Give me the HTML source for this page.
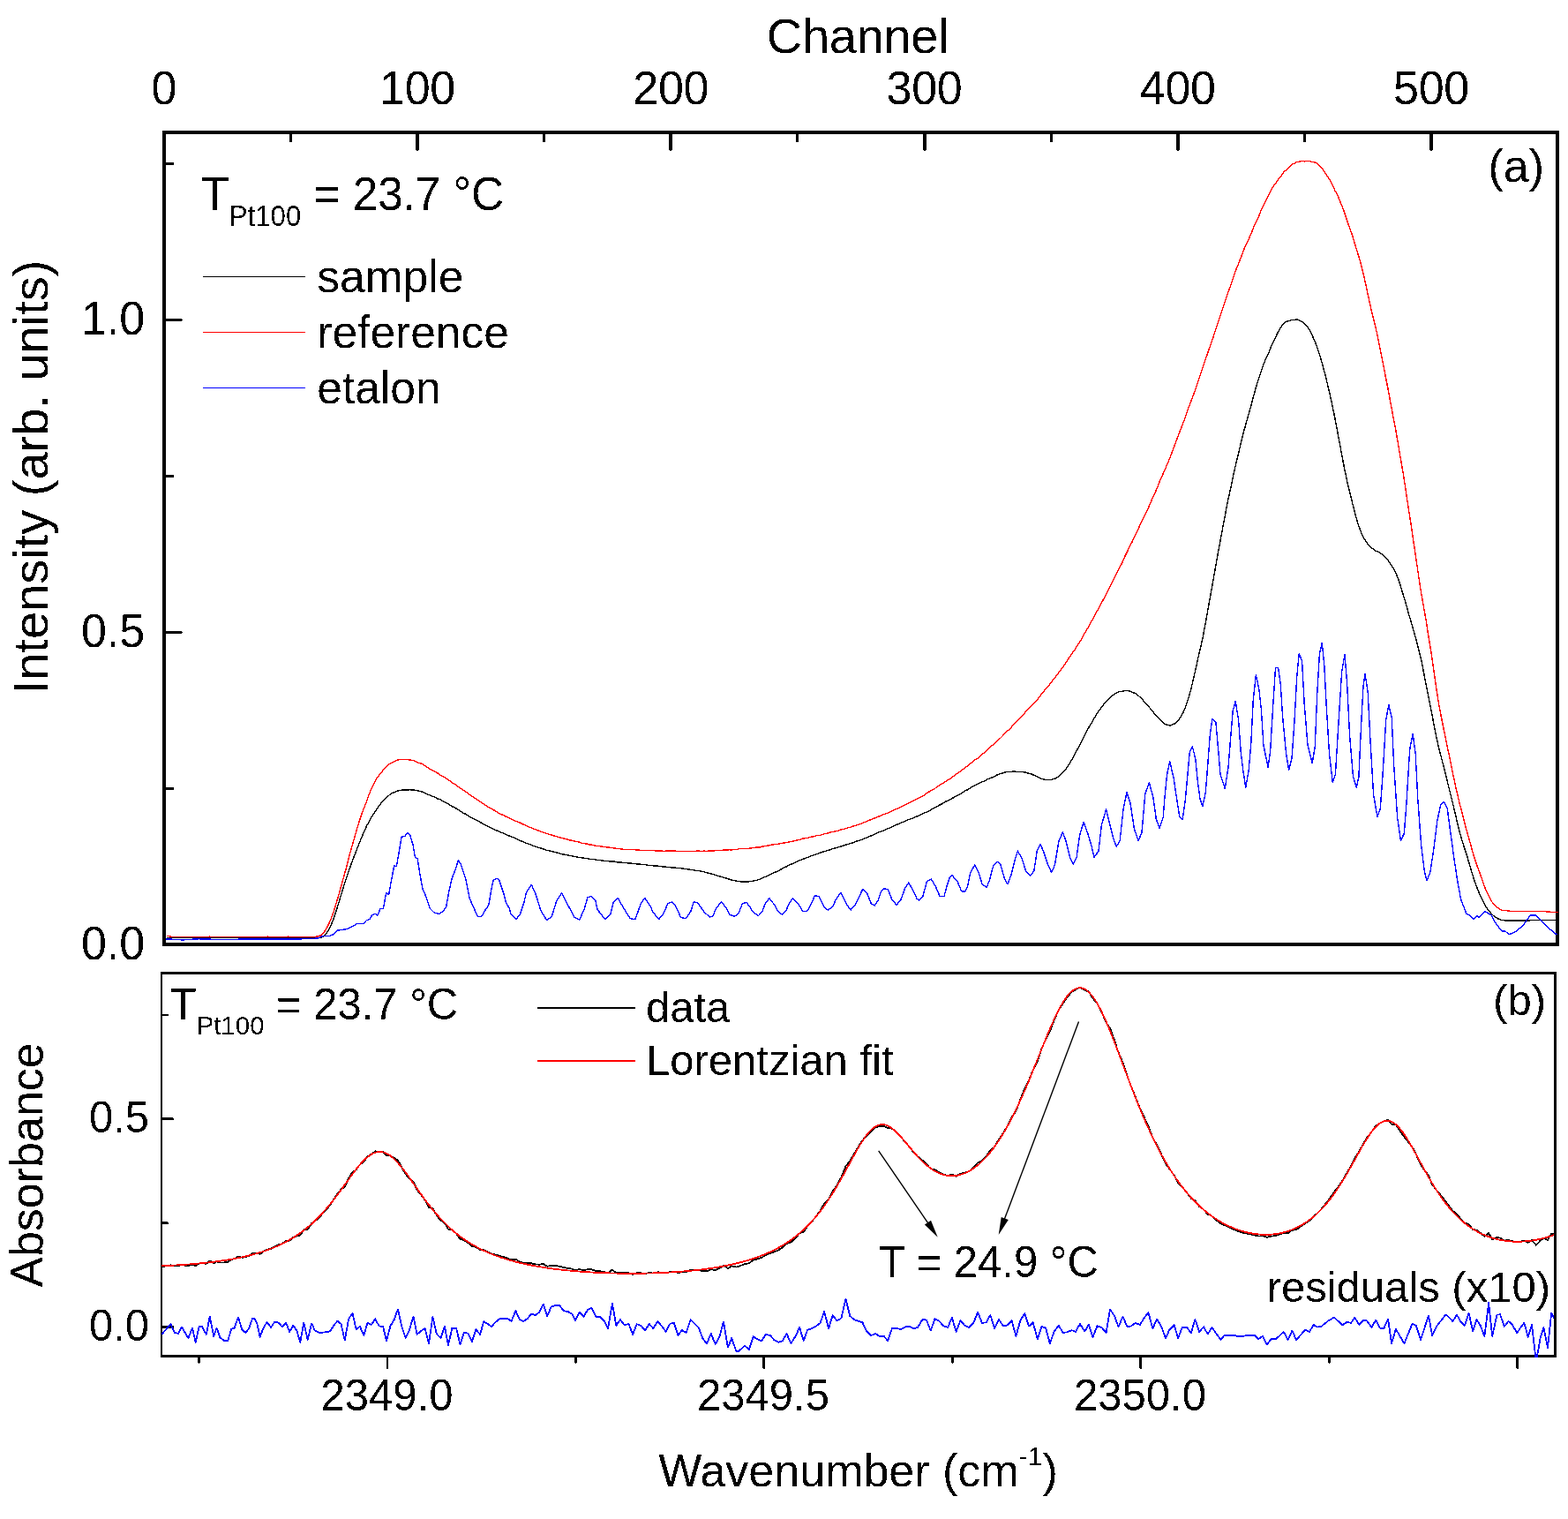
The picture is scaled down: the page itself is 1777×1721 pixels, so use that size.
<!DOCTYPE html>
<html lang="en"><head><meta charset="utf-8"><title>Channel / Wavenumber spectra</title>
<style>
html,body{margin:0;padding:0;background:#fff;}
body{width:1777px;height:1721px;overflow:hidden;}
svg{display:block;}
text{font-family:"Liberation Sans", Arial, Helvetica, sans-serif;fill:#000;}
.ln{fill:none;stroke-linejoin:round;stroke-linecap:butt;}
</style></head><body>
<svg width="1777" height="1721" viewBox="0 0 1777 1721">
<rect x="0" y="0" width="1777" height="1721" fill="#ffffff"/>
<defs><filter id="alias" x="0" y="0" width="1777" height="1721" filterUnits="userSpaceOnUse" color-interpolation-filters="sRGB"><feComponentTransfer><feFuncA type="discrete" tableValues="0 1"/></feComponentTransfer></filter></defs>
<g fill="#000" shape-rendering="crispEdges">
<rect x="184" y="148" width="1583" height="4"/>
<rect x="184" y="1068" width="1583" height="4"/>
<rect x="184" y="148" width="4" height="924"/>
<rect x="1763" y="148" width="4" height="924"/>
<rect x="328" y="152" width="3" height="9"/>
<rect x="471" y="152" width="4" height="18"/>
<rect x="472" y="170" width="2" height="1"/>
<rect x="615" y="152" width="3" height="9"/>
<rect x="758" y="152" width="4" height="18"/>
<rect x="759" y="170" width="2" height="1"/>
<rect x="902" y="152" width="3" height="9"/>
<rect x="1046" y="152" width="4" height="18"/>
<rect x="1047" y="170" width="2" height="1"/>
<rect x="1190" y="152" width="3" height="9"/>
<rect x="1333" y="152" width="4" height="18"/>
<rect x="1334" y="170" width="2" height="1"/>
<rect x="1477" y="152" width="3" height="9"/>
<rect x="1620" y="152" width="4" height="18"/>
<rect x="1621" y="170" width="2" height="1"/>
<rect x="188" y="892" width="9" height="3"/>
<rect x="188" y="715" width="18" height="3"/>
<rect x="206" y="716" width="1" height="1"/>
<rect x="188" y="538" width="9" height="3"/>
<rect x="188" y="361" width="18" height="3"/>
<rect x="206" y="362" width="1" height="1"/>
<rect x="188" y="184" width="9" height="3"/>
<rect x="182" y="1101" width="1582" height="3"/>
<rect x="182" y="1535" width="1582" height="3"/>
<rect x="182" y="1101" width="2" height="437"/>
<rect x="1761" y="1101" width="3" height="437"/>
<rect x="224" y="1538" width="3" height="6"/>
<rect x="225" y="1544" width="1" height="1"/>
<rect x="438" y="1538" width="2" height="12"/>
<rect x="438" y="1550" width="2" height="1"/>
<rect x="651" y="1538" width="3" height="6"/>
<rect x="652" y="1544" width="1" height="1"/>
<rect x="864" y="1538" width="3" height="12"/>
<rect x="865" y="1550" width="2" height="1"/>
<rect x="1078" y="1538" width="3" height="6"/>
<rect x="1079" y="1544" width="1" height="1"/>
<rect x="1291" y="1538" width="3" height="12"/>
<rect x="1292" y="1550" width="2" height="1"/>
<rect x="1505" y="1538" width="3" height="6"/>
<rect x="1506" y="1544" width="1" height="1"/>
<rect x="1718" y="1538" width="3" height="12"/>
<rect x="1719" y="1550" width="2" height="1"/>
<rect x="184" y="1502" width="13" height="3"/>
<rect x="184" y="1266" width="12" height="3"/>
<rect x="196" y="1267" width="1" height="2"/>
<rect x="184" y="1384" width="6" height="3"/>
<rect x="190" y="1385" width="1" height="2"/>
<rect x="184" y="1149" width="7" height="2"/>
</g>
<g filter="url(#alias)">
<text x="972.1" y="60.2" font-size="56" text-anchor="middle" letter-spacing="-0.3">Channel</text>
<text transform="translate(185.8 117.6) scale(1 1.04)" font-size="52" text-anchor="middle" letter-spacing="-0.3">0</text>
<text transform="translate(473.0 117.6) scale(1 1.04)" font-size="52" text-anchor="middle" letter-spacing="-0.3">100</text>
<text transform="translate(760.2 117.6) scale(1 1.04)" font-size="52" text-anchor="middle" letter-spacing="-0.3">200</text>
<text transform="translate(1047.5 117.6) scale(1 1.04)" font-size="52" text-anchor="middle" letter-spacing="-0.3">300</text>
<text transform="translate(1334.8 117.6) scale(1 1.04)" font-size="52" text-anchor="middle" letter-spacing="-0.3">400</text>
<text transform="translate(1622.0 117.6) scale(1 1.04)" font-size="52" text-anchor="middle" letter-spacing="-0.3">500</text>
<text transform="translate(164.2 1087.0) scale(1 1.04)" font-size="52" text-anchor="end">0.0</text>
<text transform="translate(164.2 733.0) scale(1 1.04)" font-size="52" text-anchor="end">0.5</text>
<text transform="translate(164.2 379.0) scale(1 1.04)" font-size="52" text-anchor="end">1.0</text>
<text transform="translate(54 540.5) rotate(-90)" font-size="56" text-anchor="middle">Intensity (arb. units)</text>
<text transform="translate(228 238) scale(1 1.04)" font-size="52">T<tspan x="31.8" y="17.12" font-size="31.2">Pt100 </tspan><tspan x="127.6" y="0" font-size="51.2">= 23.7 °C</tspan></text>
<text x="359.3" y="331" font-size="51.5">sample</text>
<text x="359.3" y="394" font-size="51.5">reference</text>
<text x="359.3" y="457" font-size="51.5">etalon</text>
<text x="1750" y="206.2" font-size="52" text-anchor="end" textLength="63.5">(a)</text>
<text transform="translate(169 1518.7) scale(1 1.017)" font-size="49" text-anchor="end">0.0</text>
<text transform="translate(169 1282.7) scale(1 1.017)" font-size="49" text-anchor="end">0.5</text>
<text transform="translate(438.5 1597.9) scale(1 1.017)" font-size="49" text-anchor="middle">2349.0</text>
<text transform="translate(865.0 1597.9) scale(1 1.017)" font-size="49" text-anchor="middle">2349.5</text>
<text transform="translate(1292.0 1597.9) scale(1 1.017)" font-size="49" text-anchor="middle">2350.0</text>
<text transform="translate(48.4 1320) rotate(-90)" font-size="52" text-anchor="middle">Absorbance</text>
<text x="972.5" y="1683.8" font-size="52" text-anchor="middle">Wavenumber (cm<tspan font-size="30" dy="-24">-1</tspan><tspan dy="24">)</tspan></text>
<text transform="translate(192.8 1155) scale(1 1.017)" font-size="49">T<tspan x="29.7" y="16.72" font-size="29.5">Pt100 </tspan><tspan x="120.2" y="0" font-size="49">= 23.7 °C</tspan></text>
<text x="732" y="1157.5" font-size="49">data</text>
<text x="732" y="1217.8" font-size="49">Lorentzian fit</text>
<text transform="translate(996 1447) scale(1 1.017)" font-size="49">T = 24.9 °C</text>
<text x="1757" y="1475" font-size="49" text-anchor="end">residuals (x10)</text>
<text x="1752" y="1150.4" font-size="49" text-anchor="end">(b)</text>
</g>
<defs>
<clipPath id="ca"><rect x="188" y="152" width="1578" height="916"/></clipPath>
<clipPath id="cb"><rect x="183" y="1104" width="1578" height="434"/></clipPath>
</defs>
<g clip-path="url(#ca)" shape-rendering="crispEdges">
<polyline class="ln" stroke="#000000" stroke-width="1.4" points="188.6,1062.7 191.5,1062.6 194.4,1062.7 197.2,1062.6 200.1,1062.7 203.0,1062.7 205.9,1062.6 208.7,1062.6 211.6,1062.7 214.5,1062.6 217.3,1062.6 220.2,1062.6 223.1,1062.6 226.0,1062.7 228.8,1062.6 231.7,1062.6 234.6,1062.7 237.5,1062.7 240.3,1062.6 243.2,1062.7 246.1,1062.6 248.9,1062.6 251.8,1062.6 254.7,1062.6 257.6,1062.7 260.4,1062.7 263.3,1062.7 266.2,1062.6 269.1,1062.7 271.9,1062.7 274.8,1062.7 277.7,1062.6 280.5,1062.7 283.4,1062.7 286.3,1062.7 289.2,1062.7 292.0,1062.7 294.9,1062.7 297.8,1062.7 300.6,1062.7 303.5,1062.6 306.4,1062.6 309.3,1062.7 312.1,1062.7 315.0,1062.7 317.9,1062.7 320.8,1062.7 323.6,1062.7 326.5,1062.6 329.4,1062.7 332.2,1062.7 335.1,1062.7 338.0,1062.6 340.9,1062.6 343.7,1062.6 346.6,1062.7 349.5,1062.7 352.4,1062.7 355.2,1062.7 358.1,1062.7 361.0,1062.6 363.8,1062.2 366.7,1060.7 369.6,1057.7 372.5,1053.5 375.3,1047.8 378.2,1040.5 381.1,1031.8 384.0,1022.3 386.8,1013.1 389.7,1003.5 392.6,994.9 395.4,986.5 398.3,978.3 401.2,970.6 404.1,963.1 406.9,956.1 409.8,948.9 412.7,942.0 415.6,935.7 418.4,930.5 421.3,925.4 424.2,920.9 427.0,916.5 429.9,912.6 432.8,909.0 435.7,905.6 438.5,903.0 441.4,900.7 444.3,898.7 447.1,897.5 450.0,896.2 452.9,895.6 455.8,895.1 458.6,894.8 461.5,894.9 464.4,894.8 467.3,894.9 470.1,895.3 473.0,895.7 475.9,896.4 478.7,897.3 481.6,898.3 484.5,899.9 487.4,901.1 490.2,902.4 493.1,903.2 496.0,905.0 498.9,905.7 501.7,907.5 504.6,909.0 507.5,910.6 510.3,912.5 513.2,914.1 516.1,915.4 519.0,917.3 521.8,919.2 524.7,921.1 527.6,922.2 530.5,924.0 533.3,925.9 536.2,927.4 539.1,928.9 541.9,930.4 544.8,931.9 547.7,933.6 550.6,935.1 553.4,936.3 556.3,937.8 559.2,939.4 562.0,940.6 564.9,941.8 567.8,943.0 570.7,944.1 573.5,945.5 576.4,946.7 579.3,948.0 582.2,949.0 585.0,950.3 587.9,951.6 590.8,952.9 593.6,954.1 596.5,955.3 599.4,956.2 602.3,957.2 605.1,958.6 608.0,959.5 610.9,960.5 613.8,961.3 616.6,962.1 619.5,963.3 622.4,963.9 625.2,964.5 628.1,965.4 631.0,966.1 633.9,966.8 636.7,967.7 639.6,968.1 642.5,968.6 645.4,969.4 648.2,969.9 651.1,970.5 654.0,971.0 656.8,971.5 659.7,971.9 662.6,972.4 665.5,972.7 668.3,973.3 671.2,973.5 674.1,973.8 676.9,974.3 679.8,974.5 682.7,975.1 685.6,975.3 688.4,975.6 691.3,975.9 694.2,976.1 697.1,976.2 699.9,976.9 702.8,976.9 705.7,977.4 708.5,977.5 711.4,977.8 714.3,978.1 717.2,978.3 720.0,978.7 722.9,979.1 725.8,979.2 728.7,979.4 731.5,979.8 734.4,980.2 737.3,980.6 740.1,980.8 743.0,981.0 745.9,981.2 748.8,981.7 751.6,981.9 754.5,982.1 757.4,982.5 760.2,982.8 763.1,983.1 766.0,983.2 768.9,983.5 771.7,983.7 774.6,984.2 777.5,984.6 780.4,985.0 783.2,985.3 786.1,985.7 789.0,986.4 791.8,986.6 794.7,987.1 797.6,987.8 800.5,988.6 803.3,989.2 806.2,990.0 809.1,990.8 812.0,991.9 814.8,992.6 817.7,993.4 820.6,994.4 823.4,995.2 826.3,996.1 829.2,997.1 832.1,997.6 834.9,998.3 837.8,998.7 840.7,998.9 843.6,999.0 846.4,999.0 849.3,998.8 852.2,998.3 855.0,997.8 857.9,997.2 860.8,996.2 863.7,995.1 866.5,993.7 869.4,992.7 872.3,991.1 875.1,989.8 878.0,988.5 880.9,987.1 883.8,985.7 886.6,984.1 889.5,982.7 892.4,981.3 895.3,979.7 898.1,978.5 901.0,977.1 903.9,975.9 906.7,974.6 909.6,973.5 912.5,972.4 915.4,971.3 918.2,970.2 921.1,969.2 924.0,968.1 926.9,967.3 929.7,966.1 932.6,965.2 935.5,964.4 938.3,963.4 941.2,962.6 944.1,961.5 947.0,960.7 949.8,959.9 952.7,959.1 955.6,958.2 958.5,957.2 961.3,956.4 964.2,955.5 967.1,954.6 969.9,953.4 972.8,952.5 975.7,951.7 978.6,950.3 981.4,949.4 984.3,948.0 987.2,947.0 990.1,945.5 992.9,944.4 995.8,942.9 998.7,941.9 1001.5,940.9 1004.4,939.3 1007.3,938.5 1010.2,937.0 1013.0,935.9 1015.9,934.3 1018.8,933.6 1021.6,932.0 1024.5,930.9 1027.4,929.5 1030.3,928.4 1033.1,927.5 1036.0,926.1 1038.9,925.1 1041.8,923.8 1044.6,922.6 1047.5,921.1 1050.4,919.9 1053.2,918.7 1056.1,916.9 1059.0,915.3 1061.9,913.6 1064.7,912.2 1067.6,910.7 1070.5,908.8 1073.4,907.3 1076.2,906.3 1079.1,904.5 1082.0,902.9 1084.8,901.4 1087.7,899.8 1090.6,898.1 1093.5,896.2 1096.3,894.9 1099.2,893.0 1102.1,891.2 1105.0,889.8 1107.8,888.4 1110.7,886.9 1113.6,885.7 1116.4,884.6 1119.3,882.8 1122.2,881.8 1125.1,880.6 1127.9,879.1 1130.8,877.6 1133.7,876.5 1136.5,875.8 1139.4,874.9 1142.3,874.4 1145.2,874.6 1148.0,874.0 1150.9,874.2 1153.8,874.3 1156.7,874.5 1159.5,874.7 1162.4,875.2 1165.3,876.1 1168.1,876.6 1171.0,878.0 1173.9,879.3 1176.8,880.8 1179.6,882.1 1182.5,882.8 1185.4,883.7 1188.3,883.5 1191.1,883.5 1194.0,882.6 1196.9,881.7 1199.7,879.9 1202.6,877.1 1205.5,873.9 1208.4,870.6 1211.2,866.5 1214.1,861.7 1217.0,856.6 1219.8,851.2 1222.7,846.0 1225.6,840.4 1228.5,834.7 1231.3,829.3 1234.2,823.6 1237.1,819.0 1240.0,813.7 1242.8,809.2 1245.7,805.0 1248.6,801.1 1251.4,797.1 1254.3,793.7 1257.2,791.3 1260.1,788.2 1262.9,786.6 1265.8,784.7 1268.7,783.4 1271.6,783.3 1274.4,782.6 1277.3,782.5 1280.2,783.1 1283.0,784.2 1285.9,785.3 1288.8,787.1 1291.7,789.6 1294.5,792.2 1297.4,795.7 1300.3,799.1 1303.2,802.2 1306.0,805.6 1308.9,809.2 1311.8,811.8 1314.6,815.6 1317.5,818.4 1320.4,820.3 1323.3,821.6 1326.1,822.0 1329.0,820.8 1331.9,819.6 1334.8,817.2 1337.6,813.0 1340.5,808.1 1343.4,801.4 1346.2,793.1 1349.1,783.4 1352.0,771.4 1354.9,758.6 1357.7,745.9 1360.6,733.8 1363.5,720.3 1366.3,705.4 1369.2,689.2 1372.1,672.9 1375.0,656.9 1377.8,641.1 1380.7,624.6 1383.6,609.4 1386.5,593.7 1389.3,578.9 1392.2,564.4 1395.1,551.6 1397.9,537.6 1400.8,525.2 1403.7,513.1 1406.6,500.7 1409.4,489.5 1412.3,479.2 1415.2,468.9 1418.1,458.5 1420.9,447.8 1423.8,437.5 1426.7,428.5 1429.5,420.1 1432.4,411.7 1435.3,404.7 1438.2,398.8 1441.0,391.5 1443.9,386.1 1446.8,379.4 1449.7,373.8 1452.5,369.3 1455.4,365.8 1458.3,364.2 1461.1,363.5 1464.0,362.6 1466.9,362.3 1469.8,362.0 1472.6,363.0 1475.5,364.5 1478.4,366.8 1481.2,370.0 1484.1,373.5 1487.0,379.9 1489.9,385.9 1492.7,393.7 1495.6,402.1 1498.5,412.1 1501.4,422.8 1504.2,434.2 1507.1,446.7 1510.0,459.6 1512.8,473.3 1515.7,488.8 1518.6,504.0 1521.5,519.8 1524.3,534.1 1527.2,547.7 1530.1,559.4 1533.0,571.4 1535.8,582.3 1538.7,592.7 1541.6,600.7 1544.4,607.8 1547.3,612.2 1550.2,616.8 1553.1,619.6 1555.9,621.7 1558.8,624.3 1561.7,625.0 1564.5,626.8 1567.4,628.9 1570.3,631.8 1573.2,635.1 1576.0,639.1 1578.9,643.5 1581.8,649.0 1584.7,656.0 1587.5,664.7 1590.4,674.4 1593.3,683.9 1596.1,694.4 1599.0,703.9 1601.9,714.3 1604.8,724.2 1607.6,735.3 1610.5,746.8 1613.4,761.4 1616.3,776.3 1619.1,790.1 1622.0,804.6 1624.9,820.2 1627.7,834.6 1630.6,847.2 1633.5,858.5 1636.4,869.9 1639.2,881.1 1642.1,892.8 1645.0,904.5 1647.9,916.1 1650.7,928.5 1653.6,940.6 1656.5,950.8 1659.3,959.7 1662.2,968.4 1665.1,978.5 1668.0,988.3 1670.8,997.4 1673.7,1005.1 1676.6,1012.5 1679.5,1018.8 1682.3,1024.4 1685.2,1029.0 1688.1,1032.8 1690.9,1036.1 1693.8,1038.5 1696.7,1040.4 1699.6,1041.8 1702.4,1042.5 1705.3,1042.8 1708.2,1043.0 1711.0,1043.0 1713.9,1043.0 1716.8,1043.1 1719.7,1043.1 1722.5,1043.1 1725.4,1043.1 1728.3,1042.9 1731.2,1042.8 1734.0,1042.8 1736.9,1042.7 1739.8,1042.6 1742.6,1042.6 1745.5,1042.5 1748.4,1042.5 1751.3,1042.6 1754.1,1042.6 1757.0,1042.6 1759.9,1042.7 1762.8,1042.7 1765.6,1042.6"/>
<polyline class="ln" stroke="#ff0000" stroke-width="1.4" points="188.6,1060.3 190.5,1060.3 194.4,1061.3 197.2,1061.2 200.1,1061.3 203.0,1061.3 205.9,1061.3 208.7,1061.3 211.6,1061.3 214.5,1061.3 217.3,1061.2 220.2,1061.3 223.1,1061.3 226.0,1061.4 228.8,1061.3 231.7,1061.3 234.6,1061.3 237.5,1061.2 240.3,1061.3 243.2,1061.3 246.1,1061.3 248.9,1061.3 251.8,1061.4 254.7,1061.3 257.6,1061.3 260.4,1061.3 263.3,1061.3 266.2,1061.3 269.1,1061.3 271.9,1061.3 274.8,1061.3 277.7,1061.4 280.5,1061.3 283.4,1061.3 286.3,1061.3 289.2,1061.2 292.0,1061.3 294.9,1061.3 297.8,1061.4 300.6,1061.3 303.5,1061.2 306.4,1061.3 309.3,1061.3 312.1,1061.2 315.0,1061.3 317.9,1061.3 320.8,1061.3 323.6,1061.3 326.5,1061.2 329.4,1061.3 332.2,1061.4 335.1,1061.3 338.0,1061.4 340.9,1061.4 343.7,1061.4 346.6,1061.3 349.5,1061.3 352.4,1061.2 355.2,1061.3 358.1,1061.2 361.0,1060.9 363.8,1059.7 366.7,1056.9 369.6,1052.7 372.5,1047.1 375.3,1040.6 378.2,1032.7 381.1,1023.3 384.0,1013.4 386.8,1003.5 389.7,993.0 392.6,982.6 395.4,971.4 398.3,961.1 401.2,950.8 404.1,940.8 406.9,931.3 409.8,922.7 412.7,915.0 415.6,908.0 418.4,899.6 421.3,892.7 424.2,886.9 427.0,881.8 429.9,878.0 432.8,874.5 435.7,870.8 438.5,867.8 441.4,865.4 444.3,864.2 447.1,862.8 450.0,861.4 452.9,860.5 455.8,860.6 458.6,860.4 461.5,860.6 464.4,861.1 467.3,861.3 470.1,862.2 473.0,863.8 475.9,864.7 478.7,865.6 481.6,867.5 484.5,869.4 487.4,871.4 490.2,872.9 493.1,874.4 496.0,876.0 498.9,878.0 501.7,879.6 504.6,881.3 507.5,883.2 510.3,885.0 513.2,887.2 516.1,888.8 519.0,891.1 521.8,893.1 524.7,895.0 527.6,896.8 530.5,899.2 533.3,900.8 536.2,903.0 539.1,904.8 541.9,906.6 544.8,908.8 547.7,910.7 550.6,912.5 553.4,914.3 556.3,915.9 559.2,917.5 562.0,919.2 564.9,921.2 567.8,922.5 570.7,923.7 573.5,925.3 576.4,926.5 579.3,927.9 582.2,929.4 585.0,930.5 587.9,931.5 590.8,932.9 593.6,934.3 596.5,935.6 599.4,937.0 602.3,937.8 605.1,939.2 608.0,940.3 610.9,941.3 613.8,942.5 616.6,943.5 619.5,944.3 622.4,945.5 625.2,946.0 628.1,947.1 631.0,947.9 633.9,948.8 636.7,949.3 639.6,950.2 642.5,950.9 645.4,951.8 648.2,952.3 651.1,953.1 654.0,953.7 656.8,954.2 659.7,955.5 662.6,955.7 665.5,956.1 668.3,957.1 671.2,957.2 674.1,958.0 676.9,958.6 679.8,958.8 682.7,959.2 685.6,959.6 688.4,960.1 691.3,960.2 694.2,960.6 697.1,961.1 699.9,961.5 702.8,961.7 705.7,962.2 708.5,962.3 711.4,962.3 714.3,962.6 717.2,962.4 720.0,962.8 722.9,962.9 725.8,963.3 728.7,963.5 731.5,963.4 734.4,963.5 737.3,963.4 740.1,963.7 743.0,963.9 745.9,964.0 748.8,963.8 751.6,964.3 754.5,964.2 757.4,964.1 760.2,964.0 763.1,964.1 766.0,964.2 768.9,964.2 771.7,964.3 774.6,964.4 777.5,964.5 780.4,964.4 783.2,964.2 786.1,964.3 789.0,964.2 791.8,964.1 794.7,964.5 797.6,964.1 800.5,964.4 803.3,963.9 806.2,963.9 809.1,963.9 812.0,963.6 814.8,963.6 817.7,963.3 820.6,963.1 823.4,963.0 826.3,962.8 829.2,962.9 832.1,962.5 834.9,962.6 837.8,961.6 840.7,961.8 843.6,961.7 846.4,961.2 849.3,961.2 852.2,960.8 855.0,960.3 857.9,960.0 860.8,960.0 863.7,959.1 866.5,958.7 869.4,958.1 872.3,957.8 875.1,957.0 878.0,956.7 880.9,956.6 883.8,955.9 886.6,955.3 889.5,954.8 892.4,954.4 895.3,953.6 898.1,953.3 901.0,952.5 903.9,951.8 906.7,951.4 909.6,950.1 912.5,949.8 915.4,949.3 918.2,948.4 921.1,947.9 924.0,947.1 926.9,946.4 929.7,946.3 932.6,945.3 935.5,944.5 938.3,944.0 941.2,943.0 944.1,942.5 947.0,941.7 949.8,941.2 952.7,940.0 955.6,939.6 958.5,938.7 961.3,937.6 964.2,937.2 967.1,935.9 969.9,935.4 972.8,934.2 975.7,933.2 978.6,932.0 981.4,931.0 984.3,929.4 987.2,928.6 990.1,927.3 992.9,926.3 995.8,925.1 998.7,924.0 1001.5,922.5 1004.4,921.8 1007.3,920.7 1010.2,919.0 1013.0,917.7 1015.9,916.5 1018.8,915.4 1021.6,914.2 1024.5,912.3 1027.4,911.0 1030.3,909.6 1033.1,908.1 1036.0,906.6 1038.9,905.5 1041.8,903.6 1044.6,902.5 1047.5,900.8 1050.4,898.7 1053.2,896.9 1056.1,895.2 1059.0,893.8 1061.9,891.5 1064.7,889.6 1067.6,888.0 1070.5,886.2 1073.4,884.1 1076.2,882.7 1079.1,880.5 1082.0,878.6 1084.8,876.3 1087.7,874.4 1090.6,872.3 1093.5,869.7 1096.3,868.0 1099.2,865.4 1102.1,863.5 1105.0,860.9 1107.8,859.3 1110.7,856.6 1113.6,854.3 1116.4,851.9 1119.3,848.9 1122.2,846.2 1125.1,844.0 1127.9,841.7 1130.8,838.8 1133.7,836.3 1136.5,833.5 1139.4,830.1 1142.3,827.7 1145.2,825.2 1148.0,821.6 1150.9,818.3 1153.8,815.8 1156.7,812.7 1159.5,809.9 1162.4,806.5 1165.3,803.7 1168.1,800.0 1171.0,797.6 1173.9,794.6 1176.8,791.2 1179.6,787.2 1182.5,784.2 1185.4,779.9 1188.3,777.2 1191.1,773.5 1194.0,769.5 1196.9,766.1 1199.7,762.3 1202.6,758.6 1205.5,754.4 1208.4,750.4 1211.2,745.7 1214.1,741.7 1217.0,737.6 1219.8,733.3 1222.7,728.6 1225.6,724.3 1228.5,718.8 1231.3,714.0 1234.2,709.1 1237.1,703.8 1240.0,698.8 1242.8,693.2 1245.7,688.5 1248.6,682.6 1251.4,677.5 1254.3,671.7 1257.2,666.6 1260.1,660.1 1262.9,655.0 1265.8,649.0 1268.7,643.4 1271.6,637.9 1274.4,631.3 1277.3,625.4 1280.2,619.5 1283.0,614.0 1285.9,607.4 1288.8,602.0 1291.7,595.5 1294.5,589.5 1297.4,583.7 1300.3,577.8 1303.2,571.2 1306.0,564.8 1308.9,558.5 1311.8,551.9 1314.6,544.4 1317.5,538.3 1320.4,531.6 1323.3,524.9 1326.1,518.0 1329.0,510.3 1331.9,502.7 1334.8,494.8 1337.6,487.6 1340.5,480.2 1343.4,472.6 1346.2,464.0 1349.1,456.4 1352.0,448.6 1354.9,440.9 1357.7,432.2 1360.6,423.6 1363.5,415.2 1366.3,406.9 1369.2,398.3 1372.1,390.4 1375.0,381.9 1377.8,373.1 1380.7,364.7 1383.6,355.4 1386.5,347.1 1389.3,338.4 1392.2,330.2 1395.1,322.5 1397.9,314.0 1400.8,305.5 1403.7,298.6 1406.6,291.0 1409.4,283.5 1412.3,276.8 1415.2,270.7 1418.1,264.4 1420.9,256.9 1423.8,251.0 1426.7,244.7 1429.5,237.5 1432.4,231.8 1435.3,225.7 1438.2,220.1 1441.0,214.1 1443.9,209.8 1446.8,206.0 1449.7,202.0 1452.5,198.6 1455.4,194.3 1458.3,192.4 1461.1,189.2 1464.0,186.1 1466.9,185.2 1469.8,183.5 1472.6,183.2 1475.5,182.5 1478.4,182.9 1481.2,182.5 1484.1,182.5 1487.0,183.5 1489.9,183.9 1492.7,184.9 1495.6,188.0 1498.5,190.9 1501.4,195.2 1504.2,199.7 1507.1,203.8 1510.0,209.2 1512.8,215.7 1515.7,220.7 1518.6,228.0 1521.5,234.8 1524.3,242.7 1527.2,251.6 1530.1,259.7 1533.0,268.0 1535.8,277.5 1538.7,286.8 1541.6,296.7 1544.4,307.4 1547.3,319.8 1550.2,333.7 1553.1,346.7 1555.9,358.5 1558.8,370.2 1561.7,383.0 1564.5,397.7 1567.4,411.8 1570.3,426.9 1573.2,441.4 1576.0,456.8 1578.9,472.1 1581.8,487.3 1584.7,504.1 1587.5,520.6 1590.4,537.2 1593.3,556.4 1596.1,575.5 1599.0,593.4 1601.9,613.4 1604.8,632.6 1607.6,652.1 1610.5,671.0 1613.4,687.3 1616.3,703.9 1619.1,722.3 1622.0,739.5 1624.9,759.6 1627.7,779.2 1630.6,797.8 1633.5,813.0 1636.4,827.3 1639.2,841.3 1642.1,854.9 1645.0,869.4 1647.9,882.9 1650.7,895.7 1653.6,908.0 1656.5,919.3 1659.3,930.3 1662.2,941.1 1665.1,951.3 1668.0,961.8 1670.8,971.5 1673.7,980.0 1676.6,988.0 1679.5,996.2 1682.3,1004.2 1685.2,1011.2 1688.1,1017.1 1690.9,1021.9 1693.8,1025.1 1696.7,1027.8 1699.6,1029.9 1702.4,1031.3 1705.3,1031.7 1708.2,1031.8 1711.0,1032.2 1713.9,1032.3 1716.8,1032.3 1719.7,1032.2 1722.5,1032.2 1725.4,1032.3 1728.3,1032.3 1731.2,1032.4 1734.0,1032.5 1736.9,1032.2 1739.8,1032.3 1742.6,1032.4 1745.5,1032.4 1748.4,1032.6 1751.3,1032.8 1754.1,1032.9 1757.0,1033.2 1759.9,1033.3 1762.8,1033.4 1765.6,1033.6"/>
<polyline class="ln" stroke="#0000ff" stroke-width="1.4" points="187.9,1063.8 207.0,1064.9 225.0,1063.8 256.5,1064.7 281.3,1063.8 315.1,1064.0 342.1,1063.8 360.1,1063.1 364.6,1060.9 373.6,1060.4 378.1,1058.6 382.6,1054.1 393.8,1052.5 399.5,1049.6 405.1,1046.2 411.9,1046.2 415.2,1042.8 418.6,1041.7 422.0,1036.5 425.4,1035.4 427.6,1037.2 431.0,1029.8 434.4,1029.3 437.7,1011.3 440.7,1013.6 443.4,997.8 446.7,980.9 449.4,981.6 452.4,964.1 455.1,948.3 459.1,947.2 461.8,943.4 464.7,946.1 468.1,957.3 470.4,971.3 473.1,972.6 476.0,991.1 478.9,1006.8 482.8,1015.8 487.3,1029.3 491.8,1033.8 497.4,1035.4 501.9,1032.7 505.7,1027.1 508.6,1011.3 512.0,995.6 516.5,984.3 519.4,974.6 522.1,978.7 527.8,995.6 532.3,1018.1 536.8,1028.2 541.3,1038.3 545.8,1038.3 550.3,1030.5 553.7,1026.0 557.0,1006.8 559.3,996.7 562.7,995.6 564.5,996.0 566.0,997.8 569.0,1006.8 570.5,1011.3 573.5,1022.6 577.3,1029.3 579.1,1036.1 584.8,1041.7 589.3,1036.1 593.8,1022.6 596.5,1011.3 602.3,1002.3 607.3,1013.6 612.9,1031.6 619.7,1042.8 625.3,1038.3 630.9,1020.3 636.5,1011.8 643.3,1024.8 651.2,1039.5 656.8,1042.2 662.4,1029.3 665.8,1017.0 670.3,1015.4 674.8,1020.3 677.1,1030.5 685.6,1041.7 691.7,1036.1 695.1,1022.6 700.0,1017.0 706.3,1028.2 714.2,1040.6 719.8,1041.7 724.3,1029.3 726.6,1022.6 731.1,1017.6 737.8,1028.2 740.1,1033.8 746.8,1041.3 751.3,1036.1 757.0,1023.7 761.5,1021.9 766.0,1027.1 771.6,1039.5 777.2,1040.6 782.8,1032.7 786.2,1021.9 790.7,1022.6 797.5,1032.7 804.2,1039.0 807.6,1038.3 812.1,1028.2 817.7,1021.9 823.4,1029.3 826.7,1036.1 832.4,1038.3 836.9,1035.0 841.4,1023.7 845.9,1022.6 850.4,1028.2 852.6,1032.3 859.4,1037.7 863.9,1032.7 867.3,1023.7 871.8,1017.6 877.4,1024.8 881.9,1032.7 886.4,1036.1 890.9,1031.6 894.3,1023.7 898.3,1017.6 904.4,1023.7 910.0,1032.7 914.5,1032.7 919.0,1024.8 923.5,1014.7 928.0,1015.8 933.7,1027.1 938.2,1031.1 943.8,1027.1 947.2,1019.2 952.8,1011.3 956.2,1018.1 960.3,1026.0 964.1,1031.1 969.3,1024.8 973.8,1015.8 977.8,1007.3 982.8,1012.5 987.3,1023.7 991.3,1026.0 995.1,1020.3 998.5,1010.2 1001.9,1006.8 1006.4,1008.0 1010.9,1019.2 1016.1,1025.3 1021.0,1019.2 1025.5,1006.8 1029.6,1000.1 1034.5,1008.0 1039.0,1018.1 1041.7,1019.9 1045.8,1015.8 1050.3,999.0 1055.3,996.0 1060.4,1004.6 1064.9,1015.2 1070.1,1015.2 1072.8,1004.6 1076.2,994.5 1079.1,991.8 1085.2,999.0 1089.7,1009.8 1093.5,1010.2 1096.4,1004.6 1099.8,988.8 1104.8,979.8 1108.8,987.7 1113.3,1002.3 1118.3,1005.3 1121.2,997.8 1125.7,980.9 1130.2,976.4 1133.6,978.7 1138.1,994.5 1141.9,1001.9 1146.0,991.1 1150.5,973.1 1153.4,964.1 1158.3,973.1 1162.8,987.7 1167.8,992.2 1171.9,986.6 1175.2,964.1 1179.1,956.2 1183.1,966.3 1187.6,979.8 1191.7,988.4 1195.5,979.8 1200.0,952.8 1204.5,942.7 1207.9,952.8 1212.4,970.8 1216.4,979.1 1220.2,970.8 1223.6,946.1 1228.1,931.4 1232.6,943.8 1236.7,957.3 1240.1,971.3 1245.0,964.1 1248.4,934.8 1253.6,916.8 1257.4,932.5 1261.9,950.6 1265.3,959.1 1269.1,952.8 1273.1,916.8 1277.0,897.7 1281.0,910.0 1285.5,939.3 1290.0,952.4 1293.9,943.8 1297.9,898.8 1302.4,886.9 1306.9,903.3 1310.3,928.0 1314.1,938.2 1318.2,925.8 1320.0,903.2 1322.6,877.5 1325.7,862.5 1330.3,882.6 1334.1,908.3 1336.7,925.0 1340.1,928.4 1343.1,908.3 1345.7,880.0 1348.3,851.7 1351.4,846.1 1354.7,859.4 1357.3,885.2 1359.9,904.5 1362.9,913.5 1366.3,898.0 1368.9,864.6 1371.4,831.2 1374.0,814.4 1377.9,818.3 1380.4,846.6 1383.0,877.5 1388.2,893.4 1392.0,869.7 1394.6,836.3 1397.2,805.4 1400.2,794.6 1403.6,815.7 1406.2,851.7 1408.7,872.3 1411.8,892.4 1415.2,872.3 1417.7,844.0 1420.3,792.6 1423.4,764.8 1426.7,779.7 1429.3,802.9 1431.9,844.0 1437.0,869.2 1439.6,851.7 1442.2,808.0 1445.5,756.6 1448.6,756.6 1451.2,774.6 1453.7,813.2 1457.6,854.3 1460.7,872.3 1464.0,859.4 1467.1,815.7 1469.7,766.9 1472.2,740.6 1475.6,748.9 1478.2,797.7 1482.0,844.0 1487.2,864.6 1490.2,846.6 1492.8,784.9 1495.4,741.1 1498.2,728.3 1500.8,754.0 1503.4,802.9 1506.5,854.3 1510.3,886.5 1513.4,877.5 1516.7,823.4 1520.6,761.7 1523.9,741.7 1526.5,772.0 1529.6,833.7 1533.5,880.0 1537.3,892.4 1539.9,880.0 1542.5,823.4 1545.0,777.2 1547.1,763.8 1550.2,784.9 1552.7,833.7 1556.6,900.6 1561.0,925.8 1564.3,916.0 1566.9,880.0 1570.7,815.7 1573.8,798.5 1577.2,813.2 1579.7,867.2 1583.6,926.3 1587.5,952.5 1591.3,944.3 1593.9,910.9 1597.7,849.2 1601.1,831.2 1604.2,854.3 1606.8,905.7 1610.6,957.2 1614.5,988.0 1617.0,997.8 1620.9,988.0 1624.8,962.3 1628.6,931.5 1632.5,912.2 1636.3,908.3 1640.2,916.0 1644.0,944.3 1647.9,972.6 1651.8,998.3 1655.6,1018.9 1662.0,1035.6 1665.9,1036.9 1669.8,1041.5 1673.6,1037.4 1676.2,1039.5 1682.6,1032.5 1690.3,1036.9 1694.2,1044.6 1701.9,1054.9 1705.8,1054.9 1710.1,1058.8 1717.3,1055.7 1726.3,1048.5 1734.1,1036.9 1740.5,1036.9 1746.9,1043.3 1754.6,1051.0 1762.9,1058.0 1765.5,1058.5"/>
</g>
<g clip-path="url(#cb)" shape-rendering="crispEdges">
<polyline class="ln" stroke="#000000" stroke-width="1.8" points="183.2,1435.5 193.5,1433.3 197.6,1434.5 201.9,1434.4 206.0,1433.0 213.4,1434.4 218.0,1432.3 221.7,1434.4 225.6,1431.4 229.0,1431.1 233.8,1431.9 237.8,1428.4 242.2,1431.3 245.5,1429.4 249.5,1430.5 253.9,1430.4 258.3,1429.7 262.2,1427.0 265.6,1426.2 270.0,1423.6 274.4,1424.8 278.3,1424.4 282.4,1422.6 286.1,1420.0 288.3,1419.5 291.2,1419.4 294.6,1420.8 298.5,1418.0 302.6,1415.6 307.0,1414.8 311.4,1412.1 316.1,1410.2 319.7,1409.1 324.1,1406.2 328.1,1405.6 332.2,1402.1 336.3,1400.3 340.2,1399.6 344.3,1393.3 348.7,1392.6 353.1,1386.1 357.0,1383.6 362.2,1378.9 371.7,1368.1 374.6,1364.3 378.3,1358.9 382.6,1352.3 386.6,1347.5 390.7,1344.6 395.1,1334.9 399.5,1327.9 403.6,1325.3 407.8,1319.6 412.3,1316.1 416.6,1310.2 420.7,1307.6 425.4,1304.4 429.5,1304.9 434.1,1305.3 438.0,1309.2 442.4,1309.4 446.8,1312.0 450.9,1314.5 455.2,1322.4 459.6,1330.2 463.9,1334.9 468.5,1339.1 472.7,1348.1 477.6,1354.3 481.6,1359.5 486.0,1367.9 490.4,1368.8 494.8,1376.9 499.5,1382.9 503.9,1385.4 508.0,1392.6 512.4,1393.7 517.1,1397.6 521.4,1403.8 525.8,1405.0 530.2,1408.0 534.9,1412.3 539.4,1412.8 544.1,1416.1 548.2,1415.9 552.6,1418.3 557.0,1420.6 561.4,1421.6 566.1,1422.7 570.5,1424.1 575.3,1425.7 579.5,1427.3 584.4,1426.8 588.8,1429.4 593.1,1430.7 597.5,1431.3 601.9,1431.3 607.0,1432.4 611.4,1432.7 615.8,1432.1 620.2,1434.7 624.6,1433.8 629.7,1434.1 634.1,1434.7 638.9,1436.2 643.6,1436.8 648.0,1437.6 652.0,1439.0 656.8,1438.1 661.5,1439.1 665.9,1438.3 670.4,1438.2 675.5,1440.0 679.9,1440.2 684.7,1441.1 689.1,1442.5 693.9,1438.4 698.3,1442.3 703.0,1441.4 707.8,1442.4 712.5,1442.2 717.0,1444.0 721.7,1442.2 726.5,1442.4 731.2,1443.2 735.6,1441.9 740.3,1442.6 745.4,1441.2 749.9,1441.8 754.6,1442.5 759.4,1440.9 763.8,1440.5 768.5,1442.3 772.9,1441.1 777.7,1441.2 782.7,1438.5 787.5,1438.7 791.9,1438.9 796.3,1440.1 801.0,1440.4 805.8,1438.0 810.7,1439.1 815.3,1437.1 820.0,1433.6 824.9,1437.0 829.2,1434.5 834.4,1435.6 837.3,1434.8 843.9,1432.2 849.0,1431.2 853.7,1427.6 858.5,1426.4 862.9,1425.0 868.0,1421.8 873.1,1419.7 877.5,1418.4 882.2,1416.3 886.7,1413.4 891.4,1409.3 896.5,1407.4 901.7,1402.4 906.1,1397.4 910.7,1395.5 915.1,1389.4 920.0,1384.1 924.6,1378.4 929.5,1371.8 934.1,1363.6 939.1,1359.3 943.6,1350.0 948.7,1342.4 953.4,1333.8 958.5,1321.2 963.2,1315.5 967.7,1307.8 972.4,1299.9 977.3,1292.2 982.2,1286.7 987.1,1281.9 992.2,1277.5 996.9,1276.0 1001.7,1275.7 1006.1,1277.8 1011.2,1278.8 1015.6,1282.6 1020.7,1288.2 1025.5,1293.4 1030.2,1298.8 1035.3,1305.4 1040.0,1310.4 1045.6,1314.8 1050.0,1318.8 1054.7,1324.3 1059.5,1325.4 1064.3,1328.1 1069.3,1330.8 1074.1,1332.0 1078.9,1330.6 1083.6,1332.7 1088.5,1329.7 1093.4,1328.9 1098.3,1326.9 1103.4,1322.9 1108.1,1317.5 1112.9,1315.0 1117.7,1310.0 1122.4,1303.3 1127.1,1299.4 1131.9,1290.9 1137.0,1283.9 1141.7,1275.7 1146.5,1265.8 1151.4,1258.8 1156.5,1245.2 1161.2,1233.4 1166.0,1224.2 1170.7,1212.2 1175.8,1202.3 1180.6,1188.1 1185.1,1177.3 1189.9,1168.4 1194.6,1155.8 1199.8,1144.3 1204.6,1136.8 1209.3,1129.9 1214.4,1123.9 1219.2,1121.1 1223.9,1118.7 1229.3,1121.5 1233.8,1123.6 1238.5,1131.1 1243.4,1136.6 1248.5,1146.5 1253.6,1158.5 1258.0,1164.9 1263.0,1178.7 1267.5,1192.4 1272.6,1204.3 1277.7,1219.8 1282.1,1231.2 1286.8,1242.7 1291.9,1255.7 1297.1,1266.6 1301.4,1275.8 1306.3,1288.8 1311.2,1297.3 1316.1,1307.7 1320.9,1318.3 1325.3,1324.2 1330.7,1331.8 1335.1,1340.3 1339.9,1345.0 1345.0,1351.3 1349.7,1357.6 1354.4,1360.3 1359.2,1367.1 1364.1,1370.5 1368.7,1375.6 1373.6,1378.0 1378.5,1382.5 1383.4,1386.5 1387.8,1388.1 1398.0,1392.9 1402.4,1394.7 1409.0,1396.8 1415.6,1398.2 1421.4,1399.3 1426.2,1400.5 1430.9,1400.3 1435.9,1401.8 1440.5,1400.7 1446.1,1400.0 1454.6,1397.2 1459.7,1397.0 1464.4,1393.8 1469.1,1393.3 1479.0,1386.1 1484.1,1382.8 1488.5,1378.1 1493.4,1374.2 1497.3,1370.2 1504.6,1361.0 1511.9,1350.8 1516.3,1345.0 1521.4,1337.7 1526.1,1329.4 1531.0,1321.1 1535.3,1312.4 1540.5,1304.4 1545.3,1295.2 1549.2,1288.9 1554.4,1282.5 1559.2,1275.4 1563.9,1272.7 1568.3,1270.6 1573.1,1268.5 1577.0,1273.7 1581.9,1274.5 1591.4,1288.1 1600.5,1299.6 1604.8,1307.8 1610.0,1319.6 1619.0,1331.8 1623.1,1342.1 1628.3,1348.7 1637.8,1360.5 1640.0,1363.4 1646.3,1371.8 1651.0,1375.6 1655.2,1380.7 1659.9,1385.4 1664.6,1386.9 1669.1,1393.0 1673.5,1393.7 1677.7,1396.9 1682.4,1400.9 1687.1,1397.1 1691.2,1404.1 1696.5,1401.9 1700.1,1402.7 1704.8,1405.5 1709.6,1405.2 1714.3,1406.2 1719.0,1407.7 1727.3,1405.7 1731.8,1407.8 1736.0,1405.1 1740.9,1410.7 1745.6,1405.6 1749.3,1402.9 1754.0,1405.0 1758.2,1397.8 1761.8,1397.6"/>
<polyline class="ln" stroke="#ff0000" stroke-width="1.8" points="183.0,1434.3 184.0,1434.2 185.0,1434.2 186.0,1434.1 187.0,1434.1 188.0,1434.1 189.0,1434.0 190.0,1434.0 191.0,1433.9 192.0,1433.9 193.0,1433.8 194.0,1433.7 195.0,1433.7 196.0,1433.6 197.0,1433.6 198.0,1433.5 199.0,1433.5 200.0,1433.4 201.0,1433.3 202.0,1433.3 203.0,1433.2 204.0,1433.2 205.0,1433.1 206.0,1433.0 207.0,1433.0 208.0,1432.9 209.0,1432.8 210.0,1432.8 211.0,1432.7 212.0,1432.6 213.0,1432.5 214.0,1432.5 215.0,1432.4 216.0,1432.3 217.0,1432.2 218.0,1432.1 219.0,1432.1 220.0,1432.0 221.0,1431.9 222.0,1431.8 223.0,1431.7 224.0,1431.6 225.0,1431.5 226.0,1431.4 227.0,1431.3 228.0,1431.2 229.0,1431.1 230.0,1431.0 231.0,1430.9 232.0,1430.8 233.0,1430.7 234.0,1430.6 235.0,1430.5 236.0,1430.4 237.0,1430.3 238.0,1430.2 239.0,1430.1 240.0,1429.9 241.0,1429.8 242.0,1429.7 243.0,1429.6 244.0,1429.4 245.0,1429.3 246.0,1429.2 247.0,1429.0 248.0,1428.9 249.0,1428.8 250.0,1428.6 251.0,1428.5 252.0,1428.3 253.0,1428.2 254.0,1428.0 255.0,1427.9 256.0,1427.7 257.0,1427.6 258.0,1427.4 259.0,1427.2 260.0,1427.1 261.0,1426.9 262.0,1426.7 263.0,1426.6 264.0,1426.4 265.0,1426.2 266.0,1426.0 267.0,1425.8 268.0,1425.6 269.0,1425.4 270.0,1425.2 271.0,1425.0 272.0,1424.8 273.0,1424.6 274.0,1424.4 275.0,1424.2 276.0,1424.0 277.0,1423.7 278.0,1423.5 279.0,1423.3 280.0,1423.0 281.0,1422.8 282.0,1422.5 283.0,1422.3 284.0,1422.0 285.0,1421.8 286.0,1421.5 287.0,1421.3 288.0,1421.0 289.0,1420.7 290.0,1420.4 291.0,1420.1 292.0,1419.8 293.0,1419.5 294.0,1419.2 295.0,1418.9 296.0,1418.6 297.0,1418.3 298.0,1418.0 299.0,1417.6 300.0,1417.3 301.0,1416.9 302.0,1416.6 303.0,1416.2 304.0,1415.9 305.0,1415.5 306.0,1415.1 307.0,1414.7 308.0,1414.4 309.0,1414.0 310.0,1413.6 311.0,1413.1 312.0,1412.7 313.0,1412.3 314.0,1411.9 315.0,1411.4 316.0,1411.0 317.0,1410.5 318.0,1410.0 319.0,1409.5 320.0,1409.1 321.0,1408.6 322.0,1408.1 323.0,1407.5 324.0,1407.0 325.0,1406.5 326.0,1405.9 327.0,1405.4 328.0,1404.8 329.0,1404.2 330.0,1403.7 331.0,1403.1 332.0,1402.5 333.0,1401.8 334.0,1401.2 335.0,1400.6 336.0,1399.9 337.0,1399.2 338.0,1398.6 339.0,1397.9 340.0,1397.2 341.0,1396.4 342.0,1395.7 343.0,1395.0 344.0,1394.2 345.0,1393.4 346.0,1392.7 347.0,1391.9 348.0,1391.1 349.0,1390.2 350.0,1389.4 351.0,1388.5 352.0,1387.7 353.0,1386.8 354.0,1385.9 355.0,1384.9 356.0,1384.0 357.0,1383.1 358.0,1382.1 359.0,1381.1 360.0,1380.1 361.0,1379.1 362.0,1378.1 363.0,1377.0 364.0,1376.0 365.0,1374.9 366.0,1373.8 367.0,1372.7 368.0,1371.6 369.0,1370.4 370.0,1369.3 371.0,1368.1 372.0,1366.9 373.0,1365.7 374.0,1364.5 375.0,1363.2 376.0,1362.0 377.0,1360.7 378.0,1359.5 379.0,1358.2 380.0,1356.9 381.0,1355.6 382.0,1354.2 383.0,1352.9 384.0,1351.5 385.0,1350.2 386.0,1348.8 387.0,1347.5 388.0,1346.1 389.0,1344.7 390.0,1343.3 391.0,1341.9 392.0,1340.5 393.0,1339.2 394.0,1337.8 395.0,1336.4 396.0,1335.0 397.0,1333.6 398.0,1332.3 399.0,1330.9 400.0,1329.6 401.0,1328.2 402.0,1326.9 403.0,1325.6 404.0,1324.3 405.0,1323.1 406.0,1321.9 407.0,1320.7 408.0,1319.5 409.0,1318.3 410.0,1317.2 411.0,1316.1 412.0,1315.1 413.0,1314.1 414.0,1313.1 415.0,1312.2 416.0,1311.4 417.0,1310.5 418.0,1309.8 419.0,1309.0 420.0,1308.4 421.0,1307.8 422.0,1307.2 423.0,1306.7 424.0,1306.3 425.0,1305.9 426.0,1305.6 427.0,1305.4 428.0,1305.2 429.0,1305.1 430.0,1305.0 431.0,1305.0 432.0,1305.1 433.0,1305.2 434.0,1305.4 435.0,1305.7 436.0,1306.0 437.0,1306.4 438.0,1306.8 439.0,1307.4 440.0,1307.9 441.0,1308.6 442.0,1309.2 443.0,1310.0 444.0,1310.8 445.0,1311.6 446.0,1312.5 447.0,1313.4 448.0,1314.4 449.0,1315.4 450.0,1316.5 451.0,1317.6 452.0,1318.8 453.0,1319.9 454.0,1321.1 455.0,1322.4 456.0,1323.6 457.0,1324.9 458.0,1326.2 459.0,1327.6 460.0,1328.9 461.0,1330.3 462.0,1331.6 463.0,1333.0 464.0,1334.4 465.0,1335.9 466.0,1337.3 467.0,1338.7 468.0,1340.1 469.0,1341.6 470.0,1343.0 471.0,1344.4 472.0,1345.8 473.0,1347.3 474.0,1348.7 475.0,1350.1 476.0,1351.5 477.0,1352.9 478.0,1354.3 479.0,1355.7 480.0,1357.0 481.0,1358.4 482.0,1359.7 483.0,1361.1 484.0,1362.4 485.0,1363.7 486.0,1365.0 487.0,1366.3 488.0,1367.6 489.0,1368.8 490.0,1370.0 491.0,1371.3 492.0,1372.5 493.0,1373.7 494.0,1374.8 495.0,1376.0 496.0,1377.1 497.0,1378.3 498.0,1379.4 499.0,1380.5 500.0,1381.5 501.0,1382.6 502.0,1383.6 503.0,1384.7 504.0,1385.7 505.0,1386.7 506.0,1387.6 507.0,1388.6 508.0,1389.6 509.0,1390.5 510.0,1391.4 511.0,1392.3 512.0,1393.2 513.0,1394.1 514.0,1394.9 515.0,1395.8 516.0,1396.6 517.0,1397.4 518.0,1398.2 519.0,1399.0 520.0,1399.8 521.0,1400.5 522.0,1401.3 523.0,1402.0 524.0,1402.7 525.0,1403.4 526.0,1404.1 527.0,1404.8 528.0,1405.5 529.0,1406.2 530.0,1406.8 531.0,1407.5 532.0,1408.1 533.0,1408.7 534.0,1409.3 535.0,1409.9 536.0,1410.5 537.0,1411.1 538.0,1411.6 539.0,1412.2 540.0,1412.7 541.0,1413.3 542.0,1413.8 543.0,1414.3 544.0,1414.8 545.0,1415.3 546.0,1415.8 547.0,1416.3 548.0,1416.8 549.0,1417.2 550.0,1417.7 551.0,1418.1 552.0,1418.6 553.0,1419.0 554.0,1419.5 555.0,1419.9 556.0,1420.3 557.0,1420.7 558.0,1421.1 559.0,1421.5 560.0,1421.9 561.0,1422.3 562.0,1422.6 563.0,1423.0 564.0,1423.4 565.0,1423.7 566.0,1424.1 567.0,1424.4 568.0,1424.8 569.0,1425.1 570.0,1425.4 571.0,1425.7 572.0,1426.1 573.0,1426.4 574.0,1426.7 575.0,1427.0 576.0,1427.3 577.0,1427.6 578.0,1427.9 579.0,1428.1 580.0,1428.4 581.0,1428.7 582.0,1429.0 583.0,1429.2 584.0,1429.5 585.0,1429.7 586.0,1430.0 587.0,1430.2 588.0,1430.5 589.0,1430.7 590.0,1431.0 591.0,1431.2 592.0,1431.4 593.0,1431.6 594.0,1431.9 595.0,1432.1 596.0,1432.3 597.0,1432.5 598.0,1432.7 599.0,1432.9 600.0,1433.1 601.0,1433.3 602.0,1433.5 603.0,1433.7 604.0,1433.9 605.0,1434.1 606.0,1434.3 607.0,1434.5 608.0,1434.6 609.0,1434.8 610.0,1435.0 611.0,1435.2 612.0,1435.3 613.0,1435.5 614.0,1435.6 615.0,1435.8 616.0,1436.0 617.0,1436.1 618.0,1436.3 619.0,1436.4 620.0,1436.6 621.0,1436.7 622.0,1436.9 623.0,1437.0 624.0,1437.1 625.0,1437.3 626.0,1437.4 627.0,1437.5 628.0,1437.7 629.0,1437.8 630.0,1437.9 631.0,1438.0 632.0,1438.2 633.0,1438.3 634.0,1438.4 635.0,1438.5 636.0,1438.6 637.0,1438.7 638.0,1438.8 639.0,1438.9 640.0,1439.0 641.0,1439.2 642.0,1439.3 643.0,1439.4 644.0,1439.5 645.0,1439.5 646.0,1439.6 647.0,1439.7 648.0,1439.8 649.0,1439.9 650.0,1440.0 651.0,1440.1 652.0,1440.2 653.0,1440.3 654.0,1440.3 655.0,1440.4 656.0,1440.5 657.0,1440.6 658.0,1440.7 659.0,1440.7 660.0,1440.8 661.0,1440.9 662.0,1440.9 663.0,1441.0 664.0,1441.1 665.0,1441.1 666.0,1441.2 667.0,1441.3 668.0,1441.3 669.0,1441.4 670.0,1441.4 671.0,1441.5 672.0,1441.6 673.0,1441.6 674.0,1441.7 675.0,1441.7 676.0,1441.8 677.0,1441.8 678.0,1441.9 679.0,1441.9 680.0,1441.9 681.0,1442.0 682.0,1442.0 683.0,1442.1 684.0,1442.1 685.0,1442.1 686.0,1442.2 687.0,1442.2 688.0,1442.3 689.0,1442.3 690.0,1442.3 691.0,1442.4 692.0,1442.4 693.0,1442.4 694.0,1442.4 695.0,1442.5 696.0,1442.5 697.0,1442.5 698.0,1442.5 699.0,1442.6 700.0,1442.6 701.0,1442.6 702.0,1442.6 703.0,1442.6 704.0,1442.6 705.0,1442.7 706.0,1442.7 707.0,1442.7 708.0,1442.7 709.0,1442.7 710.0,1442.7 711.0,1442.7 712.0,1442.7 713.0,1442.7 714.0,1442.7 715.0,1442.7 716.0,1442.7 717.0,1442.7 718.0,1442.7 719.0,1442.7 720.0,1442.7 721.0,1442.7 722.0,1442.7 723.0,1442.7 724.0,1442.7 725.0,1442.7 726.0,1442.7 727.0,1442.6 728.0,1442.6 729.0,1442.6 730.0,1442.6 731.0,1442.6 732.0,1442.6 733.0,1442.5 734.0,1442.5 735.0,1442.5 736.0,1442.5 737.0,1442.4 738.0,1442.4 739.0,1442.4 740.0,1442.4 741.0,1442.3 742.0,1442.3 743.0,1442.3 744.0,1442.2 745.0,1442.2 746.0,1442.1 747.0,1442.1 748.0,1442.1 749.0,1442.0 750.0,1442.0 751.0,1441.9 752.0,1441.9 753.0,1441.8 754.0,1441.8 755.0,1441.7 756.0,1441.7 757.0,1441.6 758.0,1441.6 759.0,1441.5 760.0,1441.5 761.0,1441.4 762.0,1441.3 763.0,1441.3 764.0,1441.2 765.0,1441.2 766.0,1441.1 767.0,1441.0 768.0,1440.9 769.0,1440.9 770.0,1440.8 771.0,1440.7 772.0,1440.6 773.0,1440.6 774.0,1440.5 775.0,1440.4 776.0,1440.3 777.0,1440.2 778.0,1440.1 779.0,1440.1 780.0,1440.0 781.0,1439.9 782.0,1439.8 783.0,1439.7 784.0,1439.6 785.0,1439.5 786.0,1439.4 787.0,1439.3 788.0,1439.2 789.0,1439.1 790.0,1438.9 791.0,1438.8 792.0,1438.7 793.0,1438.6 794.0,1438.5 795.0,1438.4 796.0,1438.2 797.0,1438.1 798.0,1438.0 799.0,1437.9 800.0,1437.7 801.0,1437.6 802.0,1437.4 803.0,1437.3 804.0,1437.2 805.0,1437.0 806.0,1436.9 807.0,1436.7 808.0,1436.6 809.0,1436.4 810.0,1436.3 811.0,1436.1 812.0,1435.9 813.0,1435.8 814.0,1435.6 815.0,1435.4 816.0,1435.2 817.0,1435.1 818.0,1434.9 819.0,1434.7 820.0,1434.5 821.0,1434.3 822.0,1434.1 823.0,1433.9 824.0,1433.7 825.0,1433.5 826.0,1433.3 827.0,1433.1 828.0,1432.9 829.0,1432.7 830.0,1432.5 831.0,1432.2 832.0,1432.0 833.0,1431.8 834.0,1431.5 835.0,1431.3 836.0,1431.0 837.0,1430.8 838.0,1430.5 839.0,1430.3 840.0,1430.0 841.0,1429.8 842.0,1429.5 843.0,1429.2 844.0,1428.9 845.0,1428.6 846.0,1428.4 847.0,1428.1 848.0,1427.8 849.0,1427.5 850.0,1427.1 851.0,1426.8 852.0,1426.5 853.0,1426.2 854.0,1425.8 855.0,1425.5 856.0,1425.2 857.0,1424.8 858.0,1424.5 859.0,1424.1 860.0,1423.7 861.0,1423.4 862.0,1423.0 863.0,1422.6 864.0,1422.2 865.0,1421.8 866.0,1421.4 867.0,1421.0 868.0,1420.6 869.0,1420.1 870.0,1419.7 871.0,1419.2 872.0,1418.8 873.0,1418.3 874.0,1417.9 875.0,1417.4 876.0,1416.9 877.0,1416.4 878.0,1415.9 879.0,1415.4 880.0,1414.9 881.0,1414.3 882.0,1413.8 883.0,1413.2 884.0,1412.7 885.0,1412.1 886.0,1411.5 887.0,1410.9 888.0,1410.3 889.0,1409.7 890.0,1409.1 891.0,1408.4 892.0,1407.8 893.0,1407.1 894.0,1406.5 895.0,1405.8 896.0,1405.1 897.0,1404.4 898.0,1403.6 899.0,1402.9 900.0,1402.2 901.0,1401.4 902.0,1400.6 903.0,1399.8 904.0,1399.0 905.0,1398.2 906.0,1397.3 907.0,1396.5 908.0,1395.6 909.0,1394.7 910.0,1393.8 911.0,1392.9 912.0,1392.0 913.0,1391.0 914.0,1390.0 915.0,1389.0 916.0,1388.0 917.0,1387.0 918.0,1385.9 919.0,1384.9 920.0,1383.8 921.0,1382.7 922.0,1381.6 923.0,1380.4 924.0,1379.2 925.0,1378.1 926.0,1376.8 927.0,1375.6 928.0,1374.4 929.0,1373.1 930.0,1371.8 931.0,1370.5 932.0,1369.1 933.0,1367.8 934.0,1366.4 935.0,1365.0 936.0,1363.5 937.0,1362.1 938.0,1360.6 939.0,1359.1 940.0,1357.6 941.0,1356.1 942.0,1354.5 943.0,1352.9 944.0,1351.3 945.0,1349.7 946.0,1348.0 947.0,1346.4 948.0,1344.7 949.0,1343.0 950.0,1341.3 951.0,1339.5 952.0,1337.8 953.0,1336.0 954.0,1334.2 955.0,1332.4 956.0,1330.6 957.0,1328.8 958.0,1327.0 959.0,1325.1 960.0,1323.3 961.0,1321.5 962.0,1319.6 963.0,1317.8 964.0,1315.9 965.0,1314.1 966.0,1312.3 967.0,1310.5 968.0,1308.6 969.0,1306.9 970.0,1305.1 971.0,1303.3 972.0,1301.6 973.0,1299.9 974.0,1298.2 975.0,1296.6 976.0,1295.0 977.0,1293.4 978.0,1291.9 979.0,1290.4 980.0,1289.0 981.0,1287.6 982.0,1286.2 983.0,1285.0 984.0,1283.8 985.0,1282.6 986.0,1281.5 987.0,1280.5 988.0,1279.6 989.0,1278.7 990.0,1277.9 991.0,1277.1 992.0,1276.5 993.0,1275.9 994.0,1275.4 995.0,1275.0 996.0,1274.6 997.0,1274.4 998.0,1274.2 999.0,1274.1 1000.0,1274.1 1001.0,1274.1 1002.0,1274.2 1003.0,1274.4 1004.0,1274.7 1005.0,1275.1 1006.0,1275.5 1007.0,1275.9 1008.0,1276.5 1009.0,1277.1 1010.0,1277.8 1011.0,1278.5 1012.0,1279.3 1013.0,1280.1 1014.0,1280.9 1015.0,1281.9 1016.0,1282.8 1017.0,1283.8 1018.0,1284.8 1019.0,1285.9 1020.0,1287.0 1021.0,1288.1 1022.0,1289.2 1023.0,1290.4 1024.0,1291.5 1025.0,1292.7 1026.0,1293.9 1027.0,1295.1 1028.0,1296.3 1029.0,1297.5 1030.0,1298.7 1031.0,1299.9 1032.0,1301.1 1033.0,1302.3 1034.0,1303.5 1035.0,1304.7 1036.0,1305.8 1037.0,1307.0 1038.0,1308.1 1039.0,1309.2 1040.0,1310.3 1041.0,1311.4 1042.0,1312.5 1043.0,1313.5 1044.0,1314.5 1045.0,1315.5 1046.0,1316.4 1047.0,1317.4 1048.0,1318.3 1049.0,1319.2 1050.0,1320.0 1051.0,1320.9 1052.0,1321.7 1053.0,1322.5 1054.0,1323.2 1055.0,1323.9 1056.0,1324.6 1057.0,1325.3 1058.0,1325.9 1059.0,1326.5 1060.0,1327.1 1061.0,1327.6 1062.0,1328.1 1063.0,1328.6 1064.0,1329.0 1065.0,1329.5 1066.0,1329.9 1067.0,1330.2 1068.0,1330.5 1069.0,1330.8 1070.0,1331.1 1071.0,1331.4 1072.0,1331.6 1073.0,1331.8 1074.0,1331.9 1075.0,1332.0 1076.0,1332.1 1077.0,1332.2 1078.0,1332.2 1079.0,1332.2 1080.0,1332.2 1081.0,1332.2 1082.0,1332.1 1083.0,1332.0 1084.0,1331.8 1085.0,1331.7 1086.0,1331.5 1087.0,1331.2 1088.0,1331.0 1089.0,1330.7 1090.0,1330.4 1091.0,1330.1 1092.0,1329.7 1093.0,1329.3 1094.0,1328.9 1095.0,1328.5 1096.0,1328.0 1097.0,1327.5 1098.0,1326.9 1099.0,1326.4 1100.0,1325.8 1101.0,1325.2 1102.0,1324.5 1103.0,1323.9 1104.0,1323.2 1105.0,1322.5 1106.0,1321.7 1107.0,1320.9 1108.0,1320.1 1109.0,1319.3 1110.0,1318.4 1111.0,1317.5 1112.0,1316.6 1113.0,1315.6 1114.0,1314.7 1115.0,1313.6 1116.0,1312.6 1117.0,1311.5 1118.0,1310.5 1119.0,1309.3 1120.0,1308.2 1121.0,1307.0 1122.0,1305.8 1123.0,1304.6 1124.0,1303.3 1125.0,1302.0 1126.0,1300.7 1127.0,1299.3 1128.0,1297.9 1129.0,1296.5 1130.0,1295.1 1131.0,1293.6 1132.0,1292.1 1133.0,1290.6 1134.0,1289.0 1135.0,1287.4 1136.0,1285.8 1137.0,1284.2 1138.0,1282.5 1139.0,1280.8 1140.0,1279.0 1141.0,1277.3 1142.0,1275.5 1143.0,1273.6 1144.0,1271.8 1145.0,1269.9 1146.0,1268.0 1147.0,1266.1 1148.0,1264.1 1149.0,1262.1 1150.0,1260.1 1151.0,1258.0 1152.0,1256.0 1153.0,1253.9 1154.0,1251.7 1155.0,1249.6 1156.0,1247.4 1157.0,1245.2 1158.0,1243.0 1159.0,1240.7 1160.0,1238.4 1161.0,1236.1 1162.0,1233.8 1163.0,1231.5 1164.0,1229.1 1165.0,1226.8 1166.0,1224.4 1167.0,1222.0 1168.0,1219.5 1169.0,1217.1 1170.0,1214.7 1171.0,1212.2 1172.0,1209.7 1173.0,1207.2 1174.0,1204.8 1175.0,1202.3 1176.0,1199.8 1177.0,1197.3 1178.0,1194.8 1179.0,1192.3 1180.0,1189.8 1181.0,1187.3 1182.0,1184.8 1183.0,1182.3 1184.0,1179.9 1185.0,1177.4 1186.0,1175.0 1187.0,1172.6 1188.0,1170.2 1189.0,1167.8 1190.0,1165.5 1191.0,1163.1 1192.0,1160.9 1193.0,1158.6 1194.0,1156.4 1195.0,1154.2 1196.0,1152.1 1197.0,1150.0 1198.0,1147.9 1199.0,1145.9 1200.0,1144.0 1201.0,1142.1 1202.0,1140.3 1203.0,1138.5 1204.0,1136.8 1205.0,1135.2 1206.0,1133.6 1207.0,1132.1 1208.0,1130.7 1209.0,1129.3 1210.0,1128.0 1211.0,1126.8 1212.0,1125.7 1213.0,1124.7 1214.0,1123.7 1215.0,1122.9 1216.0,1122.1 1217.0,1121.4 1218.0,1120.8 1219.0,1120.3 1220.0,1119.9 1221.0,1119.6 1222.0,1119.4 1223.0,1119.3 1224.0,1119.2 1225.0,1119.3 1226.0,1119.5 1227.0,1119.7 1228.0,1120.1 1229.0,1120.5 1230.0,1121.1 1231.0,1121.7 1232.0,1122.4 1233.0,1123.3 1234.0,1124.2 1235.0,1125.2 1236.0,1126.3 1237.0,1127.4 1238.0,1128.7 1239.0,1130.0 1240.0,1131.5 1241.0,1133.0 1242.0,1134.5 1243.0,1136.2 1244.0,1137.9 1245.0,1139.7 1246.0,1141.5 1247.0,1143.5 1248.0,1145.4 1249.0,1147.5 1250.0,1149.6 1251.0,1151.7 1252.0,1153.9 1253.0,1156.1 1254.0,1158.4 1255.0,1160.8 1256.0,1163.1 1257.0,1165.5 1258.0,1168.0 1259.0,1170.5 1260.0,1173.0 1261.0,1175.5 1262.0,1178.1 1263.0,1180.6 1264.0,1183.2 1265.0,1185.8 1266.0,1188.5 1267.0,1191.1 1268.0,1193.8 1269.0,1196.4 1270.0,1199.1 1271.0,1201.8 1272.0,1204.5 1273.0,1207.1 1274.0,1209.8 1275.0,1212.5 1276.0,1215.1 1277.0,1217.8 1278.0,1220.5 1279.0,1223.1 1280.0,1225.8 1281.0,1228.4 1282.0,1231.0 1283.0,1233.6 1284.0,1236.2 1285.0,1238.8 1286.0,1241.3 1287.0,1243.9 1288.0,1246.4 1289.0,1248.9 1290.0,1251.4 1291.0,1253.8 1292.0,1256.3 1293.0,1258.7 1294.0,1261.1 1295.0,1263.5 1296.0,1265.8 1297.0,1268.2 1298.0,1270.5 1299.0,1272.7 1300.0,1275.0 1301.0,1277.2 1302.0,1279.4 1303.0,1281.6 1304.0,1283.8 1305.0,1285.9 1306.0,1288.0 1307.0,1290.1 1308.0,1292.2 1309.0,1294.2 1310.0,1296.2 1311.0,1298.2 1312.0,1300.1 1313.0,1302.1 1314.0,1304.0 1315.0,1305.9 1316.0,1307.7 1317.0,1309.5 1318.0,1311.3 1319.0,1313.1 1320.0,1314.9 1321.0,1316.6 1322.0,1318.3 1323.0,1320.0 1324.0,1321.7 1325.0,1323.3 1326.0,1324.9 1327.0,1326.5 1328.0,1328.0 1329.0,1329.6 1330.0,1331.1 1331.0,1332.6 1332.0,1334.1 1333.0,1335.5 1334.0,1336.9 1335.0,1338.3 1336.0,1339.7 1337.0,1341.1 1338.0,1342.4 1339.0,1343.7 1340.0,1345.0 1341.0,1346.3 1342.0,1347.6 1343.0,1348.8 1344.0,1350.0 1345.0,1351.2 1346.0,1352.4 1347.0,1353.5 1348.0,1354.7 1349.0,1355.8 1350.0,1356.9 1351.0,1358.0 1352.0,1359.1 1353.0,1360.1 1354.0,1361.1 1355.0,1362.1 1356.0,1363.1 1357.0,1364.1 1358.0,1365.1 1359.0,1366.0 1360.0,1366.9 1361.0,1367.9 1362.0,1368.8 1363.0,1369.6 1364.0,1370.5 1365.0,1371.3 1366.0,1372.2 1367.0,1373.0 1368.0,1373.8 1369.0,1374.6 1370.0,1375.3 1371.0,1376.1 1372.0,1376.8 1373.0,1377.6 1374.0,1378.3 1375.0,1379.0 1376.0,1379.7 1377.0,1380.4 1378.0,1381.0 1379.0,1381.7 1380.0,1382.3 1381.0,1382.9 1382.0,1383.5 1383.0,1384.1 1384.0,1384.7 1385.0,1385.3 1386.0,1385.8 1387.0,1386.3 1388.0,1386.9 1389.0,1387.4 1390.0,1387.9 1391.0,1388.4 1392.0,1388.9 1393.0,1389.3 1394.0,1389.8 1395.0,1390.2 1396.0,1390.7 1397.0,1391.1 1398.0,1391.5 1399.0,1391.9 1400.0,1392.3 1401.0,1392.7 1402.0,1393.0 1403.0,1393.4 1404.0,1393.7 1405.0,1394.1 1406.0,1394.4 1407.0,1394.7 1408.0,1395.0 1409.0,1395.3 1410.0,1395.5 1411.0,1395.8 1412.0,1396.1 1413.0,1396.3 1414.0,1396.5 1415.0,1396.8 1416.0,1397.0 1417.0,1397.2 1418.0,1397.3 1419.0,1397.5 1420.0,1397.7 1421.0,1397.8 1422.0,1398.0 1423.0,1398.1 1424.0,1398.2 1425.0,1398.3 1426.0,1398.4 1427.0,1398.5 1428.0,1398.6 1429.0,1398.7 1430.0,1398.7 1431.0,1398.8 1432.0,1398.8 1433.0,1398.8 1434.0,1398.8 1435.0,1398.8 1436.0,1398.8 1437.0,1398.8 1438.0,1398.8 1439.0,1398.7 1440.0,1398.6 1441.0,1398.6 1442.0,1398.5 1443.0,1398.4 1444.0,1398.3 1445.0,1398.2 1446.0,1398.0 1447.0,1397.9 1448.0,1397.7 1449.0,1397.5 1450.0,1397.4 1451.0,1397.2 1452.0,1396.9 1453.0,1396.7 1454.0,1396.5 1455.0,1396.2 1456.0,1396.0 1457.0,1395.7 1458.0,1395.4 1459.0,1395.1 1460.0,1394.8 1461.0,1394.4 1462.0,1394.1 1463.0,1393.7 1464.0,1393.3 1465.0,1392.9 1466.0,1392.5 1467.0,1392.1 1468.0,1391.6 1469.0,1391.2 1470.0,1390.7 1471.0,1390.2 1472.0,1389.7 1473.0,1389.1 1474.0,1388.6 1475.0,1388.0 1476.0,1387.4 1477.0,1386.8 1478.0,1386.2 1479.0,1385.6 1480.0,1384.9 1481.0,1384.3 1482.0,1383.6 1483.0,1382.8 1484.0,1382.1 1485.0,1381.3 1486.0,1380.6 1487.0,1379.8 1488.0,1379.0 1489.0,1378.1 1490.0,1377.3 1491.0,1376.4 1492.0,1375.5 1493.0,1374.5 1494.0,1373.6 1495.0,1372.6 1496.0,1371.6 1497.0,1370.6 1498.0,1369.5 1499.0,1368.5 1500.0,1367.4 1501.0,1366.3 1502.0,1365.1 1503.0,1364.0 1504.0,1362.8 1505.0,1361.6 1506.0,1360.3 1507.0,1359.0 1508.0,1357.8 1509.0,1356.4 1510.0,1355.1 1511.0,1353.7 1512.0,1352.3 1513.0,1350.9 1514.0,1349.5 1515.0,1348.0 1516.0,1346.5 1517.0,1345.0 1518.0,1343.5 1519.0,1341.9 1520.0,1340.4 1521.0,1338.8 1522.0,1337.1 1523.0,1335.5 1524.0,1333.8 1525.0,1332.2 1526.0,1330.5 1527.0,1328.7 1528.0,1327.0 1529.0,1325.3 1530.0,1323.5 1531.0,1321.7 1532.0,1320.0 1533.0,1318.2 1534.0,1316.4 1535.0,1314.6 1536.0,1312.8 1537.0,1311.0 1538.0,1309.2 1539.0,1307.4 1540.0,1305.6 1541.0,1303.8 1542.0,1302.1 1543.0,1300.3 1544.0,1298.6 1545.0,1296.9 1546.0,1295.2 1547.0,1293.5 1548.0,1291.9 1549.0,1290.3 1550.0,1288.7 1551.0,1287.2 1552.0,1285.7 1553.0,1284.3 1554.0,1282.9 1555.0,1281.6 1556.0,1280.3 1557.0,1279.1 1558.0,1277.9 1559.0,1276.8 1560.0,1275.8 1561.0,1274.9 1562.0,1274.0 1563.0,1273.2 1564.0,1272.5 1565.0,1271.8 1566.0,1271.3 1567.0,1270.8 1568.0,1270.4 1569.0,1270.1 1570.0,1269.9 1571.0,1269.8 1572.0,1269.8 1573.0,1269.8 1574.0,1270.0 1575.0,1270.2 1576.0,1270.5 1577.0,1270.9 1578.0,1271.4 1579.0,1272.0 1580.0,1272.7 1581.0,1273.4 1582.0,1274.2 1583.0,1275.1 1584.0,1276.1 1585.0,1277.1 1586.0,1278.2 1587.0,1279.4 1588.0,1280.7 1589.0,1282.0 1590.0,1283.3 1591.0,1284.7 1592.0,1286.2 1593.0,1287.7 1594.0,1289.3 1595.0,1290.9 1596.0,1292.5 1597.0,1294.2 1598.0,1295.9 1599.0,1297.6 1600.0,1299.3 1601.0,1301.1 1602.0,1302.9 1603.0,1304.7 1604.0,1306.5 1605.0,1308.3 1606.0,1310.2 1607.0,1312.0 1608.0,1313.8 1609.0,1315.7 1610.0,1317.5 1611.0,1319.4 1612.0,1321.2 1613.0,1323.0 1614.0,1324.8 1615.0,1326.6 1616.0,1328.4 1617.0,1330.2 1618.0,1331.9 1619.0,1333.7 1620.0,1335.4 1621.0,1337.1 1622.0,1338.8 1623.0,1340.5 1624.0,1342.1 1625.0,1343.8 1626.0,1345.4 1627.0,1346.9 1628.0,1348.5 1629.0,1350.0 1630.0,1351.6 1631.0,1353.0 1632.0,1354.5 1633.0,1356.0 1634.0,1357.4 1635.0,1358.8 1636.0,1360.1 1637.0,1361.5 1638.0,1362.8 1639.0,1364.1 1640.0,1365.3 1641.0,1366.6 1642.0,1367.8 1643.0,1369.0 1644.0,1370.2 1645.0,1371.3 1646.0,1372.4 1647.0,1373.5 1648.0,1374.6 1649.0,1375.7 1650.0,1376.7 1651.0,1377.7 1652.0,1378.7 1653.0,1379.7 1654.0,1380.6 1655.0,1381.5 1656.0,1382.4 1657.0,1383.3 1658.0,1384.1 1659.0,1385.0 1660.0,1385.8 1661.0,1386.6 1662.0,1387.4 1663.0,1388.1 1664.0,1388.9 1665.0,1389.6 1666.0,1390.3 1667.0,1391.0 1668.0,1391.6 1669.0,1392.3 1670.0,1392.9 1671.0,1393.5 1672.0,1394.1 1673.0,1394.7 1674.0,1395.2 1675.0,1395.8 1676.0,1396.3 1677.0,1396.8 1678.0,1397.3 1679.0,1397.8 1680.0,1398.3 1681.0,1398.7 1682.0,1399.2 1683.0,1399.6 1684.0,1400.0 1685.0,1400.4 1686.0,1400.8 1687.0,1401.1 1688.0,1401.5 1689.0,1401.8 1690.0,1402.2 1691.0,1402.5 1692.0,1402.8 1693.0,1403.1 1694.0,1403.4 1695.0,1403.6 1696.0,1403.9 1697.0,1404.1 1698.0,1404.3 1699.0,1404.6 1700.0,1404.8 1701.0,1405.0 1702.0,1405.2 1703.0,1405.3 1704.0,1405.5 1705.0,1405.6 1706.0,1405.8 1707.0,1405.9 1708.0,1406.0 1709.0,1406.2 1710.0,1406.3 1711.0,1406.3 1712.0,1406.4 1713.0,1406.5 1714.0,1406.6 1715.0,1406.6 1716.0,1406.6 1717.0,1406.7 1718.0,1406.7 1719.0,1406.7 1720.0,1406.7 1721.0,1406.7 1722.0,1406.7 1723.0,1406.7 1724.0,1406.6 1725.0,1406.6 1726.0,1406.5 1727.0,1406.5 1728.0,1406.4 1729.0,1406.3 1730.0,1406.2 1731.0,1406.1 1732.0,1406.0 1733.0,1405.9 1734.0,1405.8 1735.0,1405.7 1736.0,1405.5 1737.0,1405.4 1738.0,1405.2 1739.0,1405.0 1740.0,1404.9 1741.0,1404.7 1742.0,1404.5 1743.0,1404.3 1744.0,1404.1 1745.0,1403.9 1746.0,1403.6 1747.0,1403.4 1748.0,1403.2 1749.0,1402.9 1750.0,1402.6 1751.0,1402.4 1752.0,1402.1 1753.0,1401.8 1754.0,1401.5 1755.0,1401.2 1756.0,1400.9 1757.0,1400.6 1758.0,1400.3 1759.0,1399.9 1760.0,1399.6 1761.0,1399.2"/>
<polyline class="ln" stroke="#0000ff" stroke-width="1.8" points="183.2,1511.9 193.5,1500.2 197.6,1509.7 201.9,1510.9 206.0,1503.6 213.4,1515.9 218.0,1504.6 221.7,1520.7 225.6,1502.9 229.0,1503.2 233.8,1511.9 237.8,1491.5 242.2,1514.1 245.5,1504.6 249.5,1515.6 253.9,1518.8 258.3,1518.8 262.2,1505.6 265.6,1504.6 270.0,1492.5 274.4,1506.5 278.3,1510.0 282.4,1504.6 286.1,1493.7 288.3,1494.1 291.2,1498.8 294.6,1514.9 298.5,1504.6 302.6,1498.0 307.0,1503.9 311.4,1497.7 316.1,1498.8 319.7,1503.2 324.1,1498.8 328.1,1509.0 332.2,1501.7 336.3,1507.6 340.2,1520.7 344.3,1498.8 348.7,1517.8 353.1,1499.5 357.0,1507.6 362.2,1510.0 371.7,1509.0 374.6,1507.6 378.3,1501.7 382.6,1496.6 386.6,1500.2 390.7,1518.5 395.1,1494.4 399.5,1487.8 403.6,1506.1 407.8,1502.9 412.3,1512.7 416.6,1498.8 420.7,1501.0 425.4,1494.4 429.5,1502.4 434.1,1502.9 438.0,1519.3 442.4,1502.4 446.8,1495.1 450.9,1483.4 455.2,1502.4 459.6,1515.9 463.9,1506.8 468.5,1491.9 472.7,1511.9 477.6,1507.6 481.6,1505.1 486.0,1522.2 490.4,1491.9 494.8,1511.2 499.5,1515.9 503.9,1502.7 508.0,1524.1 512.4,1504.6 517.1,1504.6 521.4,1523.2 525.8,1510.0 530.2,1510.5 534.9,1520.0 539.4,1506.1 544.1,1511.9 548.2,1497.3 552.6,1499.8 557.0,1503.2 561.4,1498.0 566.1,1494.4 570.5,1493.9 575.3,1494.1 579.5,1496.9 584.4,1485.2 588.8,1494.8 593.1,1496.9 597.5,1494.4 601.9,1488.8 607.0,1490.0 611.4,1486.6 615.8,1477.9 620.2,1491.0 624.6,1480.9 629.7,1478.6 634.1,1479.0 638.9,1485.2 643.6,1486.0 648.0,1488.5 652.0,1495.8 656.8,1486.8 661.5,1491.8 665.9,1484.1 670.4,1481.5 675.5,1491.8 679.9,1491.8 684.7,1496.6 689.1,1505.1 693.9,1476.8 698.3,1501.7 703.0,1495.1 707.8,1501.4 712.5,1499.9 717.0,1511.9 721.7,1500.2 726.5,1502.1 731.2,1507.6 735.6,1499.8 740.3,1505.1 745.4,1497.0 749.9,1502.4 754.6,1508.6 759.4,1499.8 763.8,1498.8 768.5,1513.0 772.9,1507.1 777.7,1510.0 782.7,1495.1 787.5,1499.8 791.9,1504.6 796.3,1516.3 801.0,1522.2 805.8,1510.9 810.7,1522.9 815.3,1514.9 820.0,1497.3 824.9,1526.6 829.2,1516.0 834.4,1531.0 837.3,1530.7 843.9,1524.8 849.0,1528.8 853.7,1514.4 858.5,1517.4 862.9,1519.3 868.0,1511.9 873.1,1513.0 877.5,1518.5 882.2,1520.7 886.7,1519.3 891.4,1511.2 896.5,1521.7 901.7,1513.8 906.1,1503.9 910.7,1519.0 915.1,1506.8 920.0,1505.1 924.6,1502.7 929.5,1499.2 934.1,1486.0 939.1,1505.1 943.6,1490.3 948.7,1496.6 953.4,1493.4 958.5,1471.7 963.2,1491.0 967.7,1494.7 972.4,1496.9 977.3,1498.0 982.2,1508.3 987.1,1513.0 992.2,1511.2 996.9,1513.8 1001.7,1513.8 1006.1,1519.0 1011.2,1504.6 1015.6,1504.6 1020.7,1506.1 1025.5,1503.6 1030.2,1502.4 1035.3,1505.4 1040.0,1503.9 1045.6,1494.8 1050.0,1495.6 1054.7,1507.6 1059.5,1494.1 1064.3,1496.6 1069.3,1502.4 1074.1,1503.9 1078.9,1492.9 1083.6,1509.0 1088.5,1495.8 1093.4,1502.0 1098.3,1503.9 1103.4,1498.8 1108.1,1486.8 1112.9,1498.8 1117.7,1498.3 1122.4,1490.0 1127.1,1505.1 1131.9,1494.8 1137.0,1502.4 1141.7,1501.4 1146.5,1496.1 1151.4,1513.7 1156.5,1495.8 1161.2,1488.1 1166.0,1502.7 1170.7,1498.3 1175.8,1517.1 1180.6,1502.9 1185.1,1504.6 1189.9,1522.2 1194.6,1508.6 1199.8,1502.0 1204.6,1509.7 1209.3,1509.5 1214.4,1507.1 1219.2,1509.0 1223.9,1499.8 1229.3,1508.6 1233.8,1500.7 1238.5,1514.9 1243.4,1502.4 1248.5,1503.9 1253.6,1510.0 1258.0,1483.4 1263.0,1491.0 1267.5,1503.2 1272.6,1491.8 1277.7,1503.6 1282.1,1502.4 1286.8,1498.8 1291.9,1501.0 1297.1,1492.5 1301.4,1487.1 1306.3,1505.1 1311.2,1494.7 1316.1,1502.7 1320.9,1516.0 1325.3,1506.8 1330.7,1501.3 1335.1,1516.0 1339.9,1503.9 1345.0,1503.6 1349.7,1510.5 1354.4,1495.1 1359.2,1509.0 1364.1,1503.2 1368.7,1511.5 1373.6,1503.9 1378.5,1511.2 1383.4,1517.8 1387.8,1512.7 1398.0,1512.7 1402.4,1513.8 1409.0,1513.8 1415.6,1512.7 1421.4,1512.7 1426.2,1517.1 1430.9,1513.8 1435.9,1523.2 1440.5,1517.4 1446.1,1517.1 1454.6,1509.0 1459.7,1517.8 1464.4,1507.6 1469.1,1518.1 1479.0,1506.8 1484.1,1509.0 1488.5,1501.0 1493.4,1503.5 1497.3,1502.9 1504.6,1497.0 1511.9,1492.5 1516.3,1496.6 1521.4,1501.3 1526.1,1498.0 1531.0,1498.8 1535.3,1492.9 1540.5,1501.0 1545.3,1495.6 1549.2,1496.6 1554.4,1503.9 1559.2,1495.6 1563.9,1504.6 1568.3,1505.1 1573.1,1494.7 1577.0,1522.2 1581.9,1505.8 1591.4,1522.2 1600.5,1499.9 1604.8,1501.7 1610.0,1518.1 1619.0,1490.7 1623.1,1513.0 1628.3,1502.4 1637.8,1490.3 1640.0,1490.3 1646.3,1497.1 1651.0,1489.8 1655.2,1497.1 1659.9,1501.8 1664.6,1487.7 1669.1,1508.1 1673.5,1495.0 1677.7,1501.8 1682.4,1513.9 1687.1,1476.2 1691.2,1513.9 1696.5,1489.6 1700.1,1489.3 1704.8,1502.9 1709.6,1496.9 1714.3,1501.3 1719.0,1510.2 1727.3,1498.7 1731.8,1514.9 1736.0,1500.8 1740.9,1543.2 1745.6,1516.0 1749.3,1503.9 1754.0,1526.9 1758.2,1487.7 1761.8,1494.5"/>
</g>
<g shape-rendering="crispEdges">
<rect x="230" y="313" width="116" height="1" fill="#000000"/>
<rect x="230" y="376" width="116" height="1" fill="#ff0000"/>
<rect x="230" y="439" width="116" height="1" fill="#0000ff"/>
<rect x="609" y="1141" width="111" height="2" fill="#000000"/>
<rect x="609" y="1201" width="111" height="2" fill="#ff0000"/>
</g>
<g>
<line x1="995.7" y1="1303.8" x2="1052.5" y2="1386.8" stroke="#000" stroke-width="1.4"/><polygon points="1062.7,1401.7 1047.9,1387.6 1055.0,1382.8" fill="#000"/>
<line x1="1222.5" y1="1157.5" x2="1138.0" y2="1382.3" stroke="#000" stroke-width="1.4"/><polygon points="1131.7,1399.1 1134.7,1378.9 1142.8,1381.9" fill="#000"/>
</g>
</svg>
</body></html>
